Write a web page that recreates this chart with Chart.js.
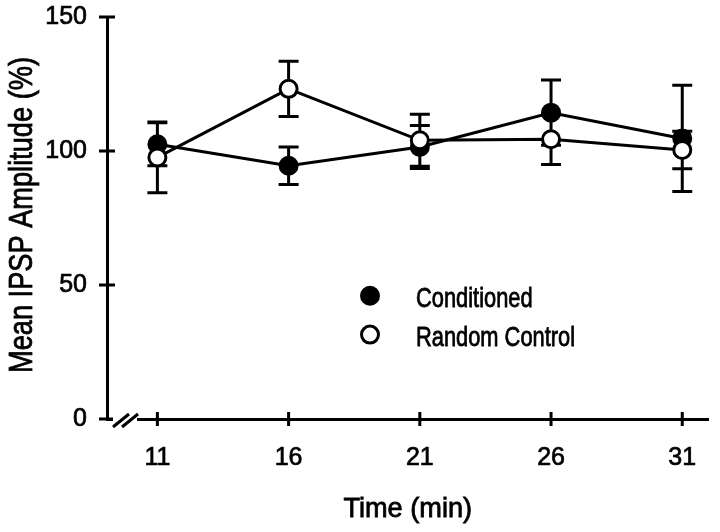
<!DOCTYPE html>
<html>
<head>
<meta charset="utf-8">
<title>Mean IPSP Amplitude</title>
<script src="https://cdn.jsdelivr.net/npm/chart.js@4/dist/chart.umd.min.js"></script>
<style>
  html, body { margin: 0; padding: 0; background: #fff; }
  #wrap { width: 720px; height: 532px; }
</style>
</head>
<body>
<div id="wrap"><canvas id="chart" width="720" height="532"></canvas></div>
<script>
// Data
const times = [11, 16, 21, 26, 31];
const conditioned = [102.5, 94.5, 101.5, 114.3, 104.7];
const conditionedErr = [8, 7, 8, 12.2, 19.8];
const randomControl = [97.6, 123.2, 104, 104.4, 100.4];
const randomControlErr = [13.2, 10.3, 9.7, 9.4, 7];
const xTicks = [11, 16, 21, 26, 31];
const yTicks = [0, 50, 100, 150];
const yTitle = 'Mean IPSP Amplitude (%)';
const xTitle = 'Time (min)';
const seriesNames = ['Conditioned', 'Random Control'];

(function () {
    const regular = '"Liberation Sans", Arial, sans-serif';

    // Build {x, y} points from the arrays
    function points(values) {
        return times.map((t, i) => ({ x: t, y: values[i] }));
    }

    // Squeezed, slightly heavier text to look like the condensed face of the figure
    function condensedText(ctx, text, size, squeeze) {
        ctx.save();
        ctx.scale(squeeze, 1);
        ctx.font = size + 'px ' + regular;
        ctx.fillStyle = '#000';
        ctx.strokeStyle = '#000';
        ctx.lineWidth = 0.8;
        ctx.fillText(text, 0, 0);
        ctx.strokeText(text, 0, 0);
        ctx.restore();
    }

    // Error bars, drawn under the markers
    const errorBars = {
        id: 'errorBars',
        beforeDatasetsDraw(chart) {
            const { ctx, scales: { x, y } } = chart;
            const sets = [[conditioned, conditionedErr], [randomControl, randomControlErr]];
            ctx.save();
            ctx.strokeStyle = '#000';
            ctx.lineWidth = 3;
            ctx.beginPath();
            sets.forEach(([vals, errs]) => {
                vals.forEach((v, i) => {
                    const px = x.getPixelForValue(times[i]);
                    const top = y.getPixelForValue(v + errs[i]);
                    const bot = y.getPixelForValue(v - errs[i]);
                    ctx.moveTo(px, top); ctx.lineTo(px, bot);
                    ctx.moveTo(px - 10, top); ctx.lineTo(px + 10, top);
                    ctx.moveTo(px - 10, bot); ctx.lineTo(px + 10, bot);
                });
            });
            ctx.stroke();
            ctx.restore();
        }
    };

    // Tick marks crossing the axes, axis break, axis titles and the legend
    const decorations = {
        id: 'decorations',
        afterDraw(chart) {
            const { ctx, chartArea: area, scales: { x, y } } = chart;
            ctx.save();
            ctx.strokeStyle = '#000';
            ctx.lineWidth = 3;
            ctx.beginPath();
            yTicks.forEach(v => {
                const py = y.getPixelForValue(v);
                ctx.moveTo(area.left - 8, py); ctx.lineTo(area.left + 8, py);
            });
            xTicks.forEach(v => {
                const px = x.getPixelForValue(v);
                ctx.moveTo(px, area.bottom - 7); ctx.lineTo(px, area.bottom + 7);
            });
            ctx.stroke();

            // axis break "//"
            ctx.fillStyle = '#fff';
            ctx.fillRect(area.left + 6, area.bottom - 3, 24, 6);
            ctx.beginPath();
            ctx.moveTo(area.left + 6, area.bottom + 8); ctx.lineTo(area.left + 22, area.bottom - 5);
            ctx.moveTo(area.left + 15, area.bottom + 8); ctx.lineTo(area.left + 31, area.bottom - 5);
            ctx.stroke();

            ctx.textAlign = 'center';
            ctx.textBaseline = 'alphabetic';

            // y title, rotated
            ctx.save();
            ctx.translate(32, (area.top + area.bottom) / 2 - 3);
            ctx.rotate(-Math.PI / 2);
            condensedText(ctx, yTitle, 34, 0.8);
            ctx.restore();

            // x title
            ctx.save();
            ctx.translate((area.left + area.right) / 2, 517);
            condensedText(ctx, xTitle, 28, 0.97);
            ctx.restore();

            // legend
            const fills = ['#000', '#fff'];
            const rows = [y.getPixelForValue(46), y.getPixelForValue(31.5)];
            ctx.textAlign = 'left';
            seriesNames.forEach((label, i) => {
                const cy = rows[i];
                ctx.beginPath();
                ctx.arc(370, cy, 8.5, 0, Math.PI * 2);
                ctx.fillStyle = fills[i];
                ctx.fill();
                ctx.lineWidth = 3;
                ctx.stroke();
                ctx.save();
                ctx.translate(416, cy + 11);
                condensedText(ctx, label, 28, 0.78);
                ctx.restore();
            });
            ctx.restore();
        }
    };

    const canvas = document.getElementById('chart').getContext('2d');

    let graphic = new Chart(canvas, {
        type: 'line',
        data: {
            datasets: [{
                label: seriesNames[0],
                data: points(conditioned),
                borderColor: '#000',
                backgroundColor: '#000',
                pointBackgroundColor: '#000',
                borderWidth: 3,
                pointRadius: 8.5,
                pointBorderWidth: 3,
                order: 2
            },
            {
                label: seriesNames[1],
                data: points(randomControl),
                borderColor: '#000',
                backgroundColor: '#fff',
                pointBackgroundColor: '#fff',
                borderWidth: 3,
                pointRadius: 8.5,
                pointBorderWidth: 3,
                order: 1
            }]
        },
        options: {
            responsive: false,
            animation: false,
            events: [],
            clip: false,
            layout: { padding: { top: 17, right: 6, left: 0, bottom: 0 } },
            plugins: {
                legend: { display: false },
                tooltip: { enabled: false }
            },
            scales: {
                x: {
                    type: 'linear',
                    min: 9.08,
                    max: 32,
                    grid: { display: false, drawTicks: false },
                    border: { display: true, color: '#000', width: 3 },
                    afterBuildTicks: scale => { scale.ticks = xTicks.map(v => ({ value: v })); },
                    afterFit: scale => { scale.height = 113; scale.paddingLeft = 0; scale.paddingRight = 0; },
                    ticks: {
                        color: '#000',
                        font: { family: regular, size: 25 },
                        textStrokeColor: '#000',
                        textStrokeWidth: 0.7,
                        padding: 24,
                        maxRotation: 0,
                        callback: v => String(v)
                    },
                    title: { display: false }
                },
                y: {
                    min: 0,
                    max: 150,
                    grid: { display: false, drawTicks: false },
                    border: { display: true, color: '#000', width: 3 },
                    afterBuildTicks: scale => { scale.ticks = yTicks.map(v => ({ value: v })); },
                    afterFit: scale => { scale.width = 107; scale.paddingTop = 0; scale.paddingBottom = 0; },
                    ticks: {
                        color: '#000',
                        font: { family: regular, size: 25 },
                        textStrokeColor: '#000',
                        textStrokeWidth: 0.7,
                        padding: 20
                    },
                    title: { display: false }
                }
            }
        },
        plugins: [errorBars, decorations]
    });
})();
</script>
</body>
</html>
